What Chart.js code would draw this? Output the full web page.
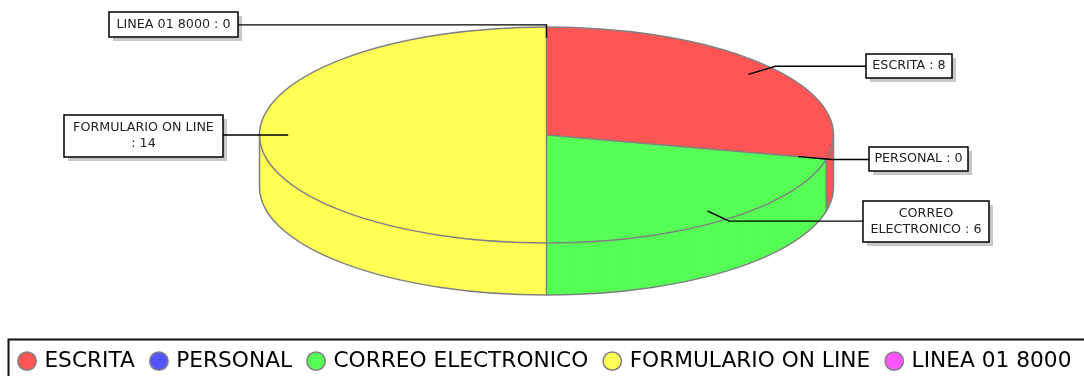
<!DOCTYPE html>
<html lang="es">
<head>
  <meta charset="UTF-8">
  <title>Solicitudes por medio</title>
  <script src="https://cdn.jsdelivr.net/npm/chart.js"></script>
  <style>
    html, body {
      margin: 0;
      padding: 0;
      background: #fff;
      overflow: hidden;
    }
    canvas {
      display: block;
      filter: blur(0.5px);
    }
  </style>
</head>
<body>
  <canvas id="chart" width="1084" height="376"></canvas>

  <script>
    const categories = ['ESCRITA', 'PERSONAL', 'CORREO ELECTRONICO', 'FORMULARIO ON LINE', 'LINEA 01 8000'];
    const values = [8, 0, 6, 14, 0];
    const colors = ['#ff5555', '#5555ff', '#55ff55', '#ffff55', '#ff55ff'];

    // cajas de las etiquetas: x, y, ancho, alto
    const labelBoxes = [
      [866, 54, 86, 24],
      [869, 147, 99, 24],
      [863, 201, 126, 41],
      [64, 115, 159, 42],
      [109, 12, 129, 25]
    ];
    // caracteres de la primera linea de cada etiqueta (0 = una sola linea)
    const labelBreaks = [0, 0, 6, 18, 0];

    // el pastel se dibuja aplastado para que parezca 3D
    const pie3d = { cx: 546.5, cy: 135, rx: 287, ry: 108, depth: 52 };
    const edgeColor = '#808080';

    function drawArcs(chart, arcs, dy) {
      const ctx = chart.ctx;
      arcs.forEach(arc => {
        ctx.save();
        ctx.translate(pie3d.cx, pie3d.cy + dy);
        ctx.scale(pie3d.rx / arc.outerRadius, pie3d.ry / arc.outerRadius);
        ctx.translate(-arc.x, -arc.y);
        arc.draw(ctx);
        ctx.restore();
      });
    }

    function ellipsePoint(angle, f) {
      return {
        x: pie3d.cx + Math.cos(angle) * pie3d.rx * f,
        y: pie3d.cy + Math.sin(angle) * pie3d.ry * f
      };
    }

    const pie3dPlugin = {
      id: 'pie3d',
      beforeDatasetDraw(chart) {
        const arcs = chart.getDatasetMeta(0).data;
        const ctx = chart.ctx;

        // lateral: copias del pastel de abajo hacia arriba
        for (let dy = pie3d.depth; dy >= 0; dy--) {
          drawArcs(chart, arcs, dy);
        }

        ctx.save();
        ctx.strokeStyle = edgeColor;
        ctx.lineWidth = 1.5;

        // borde inferior y verticales del lateral
        ctx.beginPath();
        ctx.moveTo(pie3d.cx - pie3d.rx, pie3d.cy);
        ctx.lineTo(pie3d.cx - pie3d.rx, pie3d.cy + pie3d.depth);
        ctx.ellipse(pie3d.cx, pie3d.cy + pie3d.depth, pie3d.rx, pie3d.ry, 0, Math.PI, 0, true);
        ctx.lineTo(pie3d.cx + pie3d.rx, pie3d.cy);
        ctx.stroke();

        // tapa
        ctx.beginPath();
        ctx.ellipse(pie3d.cx, pie3d.cy, pie3d.rx, pie3d.ry, 0, 0, Math.PI * 2);
        ctx.stroke();

        // divisiones entre porciones
        arcs.forEach(arc => {
          if (arc.endAngle - arc.startAngle <= 0) return;
          const p = ellipsePoint(arc.startAngle, 1);
          ctx.beginPath();
          ctx.moveTo(pie3d.cx, pie3d.cy);
          ctx.lineTo(p.x, p.y);
          ctx.stroke();
          if (Math.sin(arc.startAngle) > 0) {
            ctx.beginPath();
            ctx.moveTo(p.x, p.y);
            ctx.lineTo(p.x, p.y + pie3d.depth);
            ctx.stroke();
          }
        });
        ctx.restore();
        return false;
      },
      afterDraw(chart) {
        const ctx = chart.ctx;
        const arcs = chart.getDatasetMeta(0).data;

        // caja de la leyenda
        ctx.save();
        ctx.strokeStyle = '#111';
        ctx.lineWidth = 2;
        ctx.strokeRect(8.5, 339.5, 1090, 60);
        ctx.restore();

        arcs.forEach((arc, i) => {
          const mid = (arc.startAngle + arc.endAngle) / 2;
          const from = ellipsePoint(mid, 0.9);
          const elbow = ellipsePoint(mid, 1.02);
          const box = labelBoxes[i];
          const boxY = box[1] + box[3] / 2;
          const lineY = Math.abs(elbow.y - boxY) < 2 ? elbow.y : boxY;
          const toLeft = box[0] < pie3d.cx;

          ctx.save();

          // sombra
          ctx.fillStyle = '#c8c8c8';
          ctx.fillRect(box[0] + 4, box[1] + 4, box[2], box[3]);

          // linea guia
          ctx.strokeStyle = '#000';
          ctx.lineWidth = 1.4;
          ctx.beginPath();
          ctx.moveTo(from.x, from.y);
          ctx.lineTo(elbow.x, lineY);
          ctx.lineTo(toLeft ? box[0] + box[2] : box[0], lineY);
          ctx.stroke();

          // caja
          ctx.fillStyle = '#fff';
          ctx.fillRect(box[0], box[1], box[2], box[3]);
          ctx.lineWidth = 1.5;
          ctx.strokeRect(box[0], box[1], box[2], box[3]);

          // texto
          const text = categories[i] + ' : ' + values[i];
          const lines = labelBreaks[i]
            ? [text.slice(0, labelBreaks[i]), text.slice(labelBreaks[i] + 1)]
            : [text];
          ctx.fillStyle = '#222';
          ctx.font = '12.7px "DejaVu Sans"';
          ctx.textAlign = 'center';
          ctx.textBaseline = 'middle';
          lines.forEach((line, n) => {
            ctx.fillText(line, box[0] + box[2] / 2, boxY + (n - (lines.length - 1) / 2) * 16);
          });
          ctx.restore();
        });
      }
    };

    new Chart(document.getElementById('chart'), {
      type: 'pie',
      data: {
        labels: categories,
        datasets: [{
          data: values,
          backgroundColor: colors,
          borderWidth: 0
        }]
      },
      options: {
        responsive: false,
        animation: false,
        // padding negativo: la leyenda necesita algo mas de ancho para caber en una fila
        layout: { padding: { left: -13, right: -21, bottom: -6 } },
        plugins: {
          tooltip: { enabled: false },
          legend: {
            position: 'bottom',
            labels: {
              color: '#111',
              font: { family: '"DejaVu Sans"', size: 21.7 },
              usePointStyle: true,
              pointStyle: 'circle',
              boxWidth: 13,
              boxHeight: 13,
              padding: 17.5,
              generateLabels(chart) {
                return categories.map((name, i) => ({
                  text: name,
                  fillStyle: colors[i],
                  strokeStyle: edgeColor,
                  lineWidth: 1.5,
                  pointStyle: 'circle',
                  index: i
                }));
              }
            }
          }
        }
      },
      plugins: [pie3dPlugin]
    });
  </script>
</body>
</html>
